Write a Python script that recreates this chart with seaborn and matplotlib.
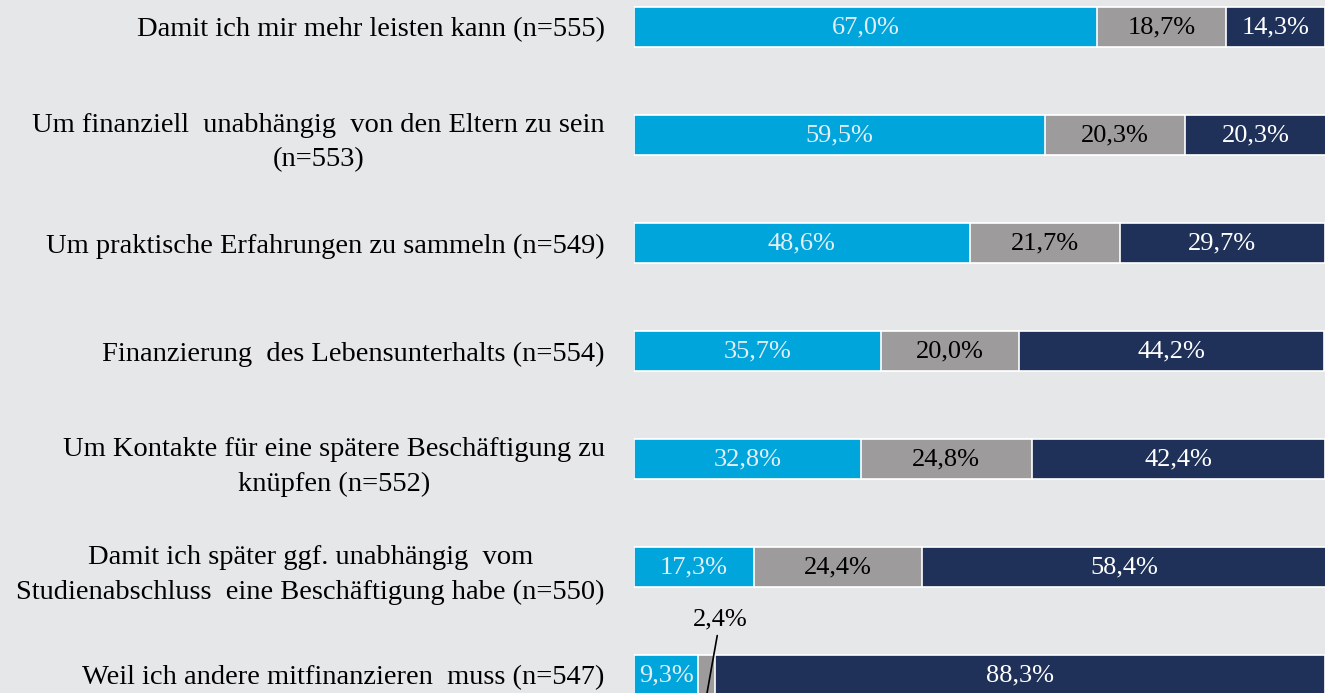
import numpy as np
import pandas as pd
import matplotlib.pyplot as plt
import seaborn as sns

gruende = [
    "Damit ich mir mehr leisten kann (n=555)",
    "Um finanziell  unabhängig  von den Eltern zu sein\n(n=553)",
    "Um praktische Erfahrungen zu sammeln (n=549)",
    "Finanzierung  des Lebensunterhalts (n=554)",
    "Um Kontakte für eine spätere Beschäftigung zu\nknüpfen (n=552)",
    "Damit ich später ggf. unabhängig  vom\nStudienabschluss  eine Beschäftigung habe (n=550)",
    "Weil ich andere mitfinanzieren  muss (n=547)",
]
ja = [67.0, 59.5, 48.6, 35.7, 32.8, 17.3, 9.3]
teils = [18.7, 20.3, 21.7, 20.0, 24.8, 24.4, 2.4]
nein = [14.3, 20.3, 29.7, 44.2, 42.4, 58.4, 88.3]

farben = ['#00A5DC', '#9D9B9B', '#1F3159']
textfarben = ['#E4EEF4', 'black', 'white']
bg = '#E6E7E9'

df = pd.DataFrame({'grund': gruende, 'ja': ja, 'teils': teils, 'nein': nein})
df['s1'] = df['ja']
df['s2'] = df['ja'] + df['teils']
df['s3'] = df['s2'] + df['nein']

sns.set_theme(style='white')
plt.rcParams['font.family'] = ['Liberation Serif', 'DejaVu Serif']

fig = plt.figure(figsize=(13.25, 6.93), dpi=100, facecolor=bg)
ax = fig.add_axes([634 / 1325, 0, 691 / 1325, 1])
ax.set_facecolor(bg)

# gestapelt durch Überlagern der kumulierten Summen
for col, farbe in zip(['s3', 's2', 's1'], farben[::-1]):
    sns.barplot(data=df, x=col, y='grund', color=farbe, saturation=1,
                width=0.37, edgecolor='white', linewidth=1.2, ax=ax)

for i, row in df.iterrows():
    start = 0
    for j, col in enumerate(['ja', 'teils', 'nein']):
        v = row[col]
        txt = f"{v:.1f}".replace('.', ',') + '%'
        if v >= 5:
            ax.text(start + v / 2, i, txt, ha='center', va='center',
                    color=textfarben[j], fontsize=19)
        else:
            ax.annotate(txt, xy=(start + v / 2 - 0.3, i + 0.3),
                        xytext=(start + v / 2 + 1.95, i - 0.51),
                        ha='center', va='center', fontsize=19, color='black',
                        annotation_clip=False,
                        arrowprops=dict(arrowstyle='-', color='black', lw=1.2,
                                        shrinkA=1, shrinkB=0))
        start += v

ax.set_xlim(0, 100)
ax.set_ylim(6.167, -0.25)
ax.set_xlabel('')
ax.set_ylabel('')
ax.set_xticks([])
ax.tick_params(axis='y', length=0, pad=21, labelsize=20.5, labelcolor='black')
for lbl in ax.get_yticklabels():
    lbl.set_multialignment('center')
    lbl.set_linespacing(1.5)
sns.despine(left=True, bottom=True)

fig.savefig('out.png', dpi=100, facecolor=bg)
